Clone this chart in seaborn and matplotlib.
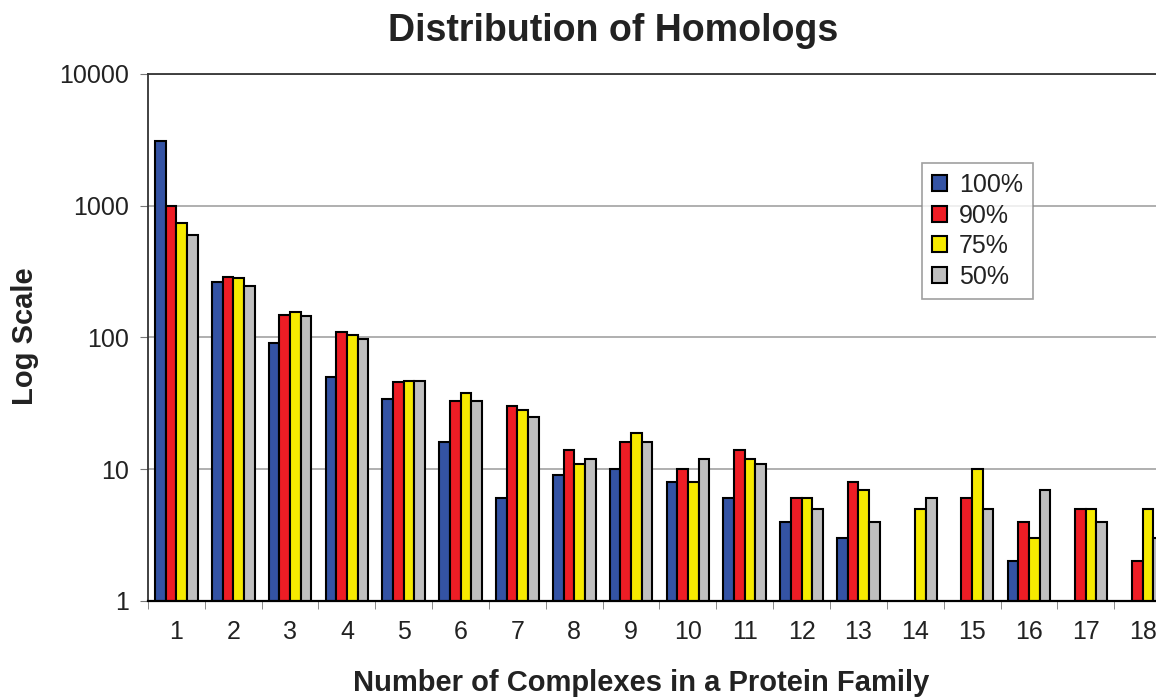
import numpy as np
import pandas as pd
import matplotlib
matplotlib.use('Agg')
import matplotlib.pyplot as plt
from matplotlib.ticker import FixedLocator, NullLocator
import seaborn as sns

# 카테고리와 시리즈 값 (그림에서 읽은 값, 없는 막대는 None)
complexes = [str(i) for i in range(1, 19)]
identity_levels = ['100%', '90%', '75%', '50%']
vals_100 = [3100, 265, 91, 50, 34, 16, 6, 9, 10, 8, 6, 4, 3, None, None, 2, None, None]
vals_90 = [1000, 290, 148, 110, 46, 33, 30, 14, 16, 10, 14, 6, 8, None, 6, 4, 5, 2]
vals_75 = [740, 282, 157, 104, 47, 38, 28, 11, 19, 8, 12, 6, 7, 5, 10, 3, 5, 5]
vals_50 = [598, 248, 146, 97, 47, 33, 25, 12, 16, 12, 11, 5, 4, 6, 5, 7, 4, 3]
colors = ['#3453A4', '#EE1D25', '#F6EA00', '#BFBFBF']
y_ticks = [1, 10, 100, 1000, 10000]

rows = []
for level, vals in zip(identity_levels, [vals_100, vals_90, vals_75, vals_50]):
    for c, v in zip(complexes, vals):
        if v is not None:
            rows.append({'complexes': c, 'count': v, 'identity': level})
df = pd.DataFrame(rows)

sns.set_style('white')
plt.rcParams['font.family'] = ['Liberation Sans', 'DejaVu Sans']
text_color = '#222222'

fig = plt.figure(figsize=(11.56, 6.98), dpi=100)
# 오른쪽 끝이 그림 밖으로 잘리도록 축 위치 지정
ax = fig.add_axes([0.128, 0.139, 0.885, 0.755])

sns.barplot(
    data=df, x='complexes', y='count', hue='identity',
    order=complexes, hue_order=identity_levels,
    palette=colors, saturation=1, edgecolor='black', linewidth=1.5,
    width=0.75, ax=ax, errorbar=None
)

ax.set_yscale('log')
ax.set_ylim(1, 10000)
ax.set_xlim(-0.5, len(complexes) - 0.5)

# y축 눈금
ax.yaxis.set_major_locator(FixedLocator(y_ticks))
ax.yaxis.set_minor_locator(NullLocator())
ax.set_yticklabels([str(t) for t in y_ticks])
ax.tick_params(axis='y', which='major', direction='out', length=6, color='#777777',
               labelsize=18, labelcolor=text_color, left=True, pad=8)

# x축: 라벨은 가운데, 눈금선은 경계에
ax.set_xticks(range(len(complexes)))
ax.set_xticklabels(complexes)
ax.set_xticks(np.arange(-0.5, len(complexes), 1), minor=True)
ax.tick_params(axis='x', which='major', length=0, labelsize=18, labelcolor=text_color, pad=14)
ax.tick_params(axis='x', which='minor', direction='out', length=6, color='#777777', bottom=True)

ax.grid(axis='y', which='major', color='#9a9a9a', linewidth=1.1)
ax.grid(axis='x', visible=False)
ax.set_axisbelow(True)

for side in ['left', 'top', 'right']:
    ax.spines[side].set_color('#333333')
    ax.spines[side].set_linewidth(1.3)
ax.spines['bottom'].set_color('black')
ax.spines['bottom'].set_linewidth(1.6)

ax.set_xlabel('')
ax.set_ylabel('')

fig.text(0.530, 0.955, 'Distribution of Homologs', ha='center', va='center',
         fontsize=27, fontweight='bold', color=text_color)
fig.text(0.5545, 0.0215, 'Number of Complexes in a Protein Family', ha='center', va='center',
         fontsize=21, fontweight='bold', color=text_color)
fig.text(0.0216, 0.519, 'Log Scale', ha='center', va='center', rotation=90,
         fontsize=21, fontweight='bold', color=text_color)

leg = ax.legend(loc='upper left', bbox_to_anchor=(0.757, 0.831), borderaxespad=0,
                fontsize=18, frameon=True, fancybox=False, handlelength=0.6,
                handleheight=0.6, handletextpad=0.45, labelspacing=0.26,
                borderpad=0.4, title=None)
leg.get_frame().set_edgecolor('#888888')
leg.get_frame().set_linewidth(1.2)
for t in leg.get_texts():
    t.set_color(text_color)

plt.savefig('out.png', dpi=100)
